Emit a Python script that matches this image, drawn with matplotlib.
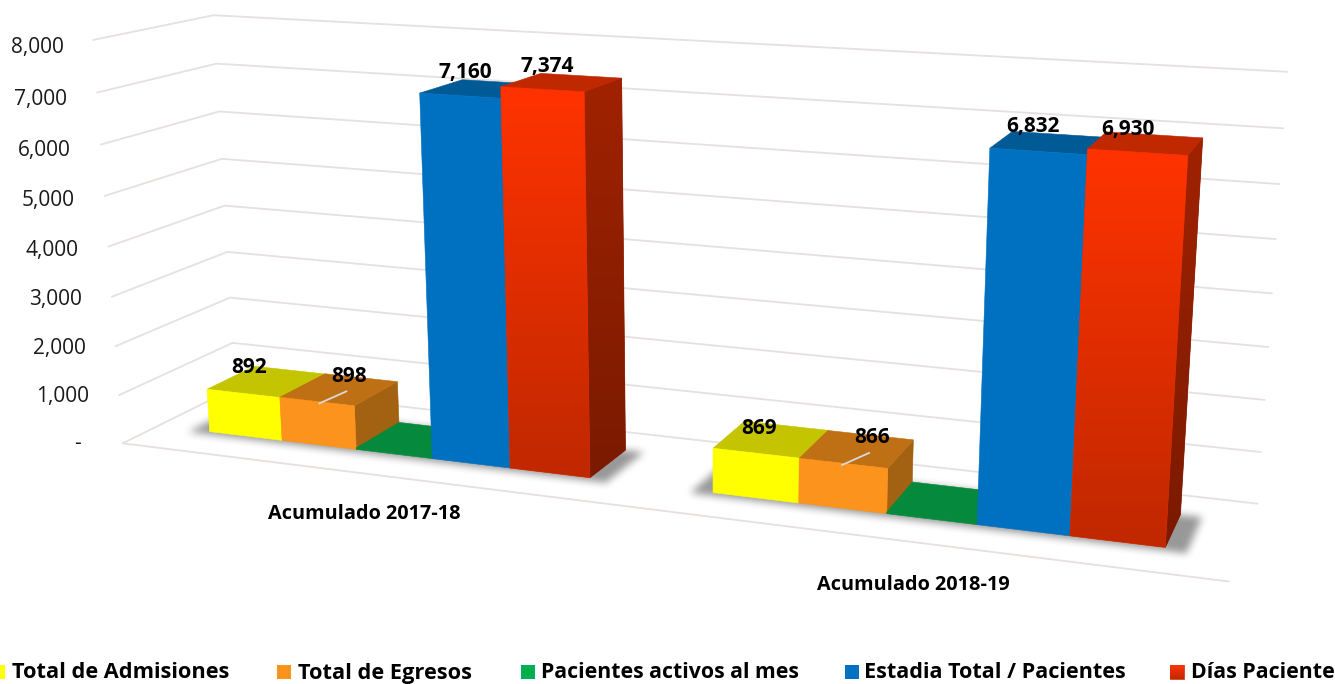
#!/usr/bin/env python3
# -*- coding: utf-8 -*-

import numpy as np
import matplotlib
matplotlib.use("Agg")
import matplotlib.pyplot as plt
from matplotlib.path import Path
from matplotlib.patches import Polygon

plt.rcParams['font.family'] = ['Open Sans', 'DejaVu Sans']

# --------------
# Data
# --------------
categories = ["Acumulado 2017-18", "Acumulado 2018-19"]
series_names = ["Total de Admisiones", "Total de Egresos", "Pacientes activos al mes",
                "Estadia Total / Pacientes", "Días Paciente"]
admisiones = [892, 869]
egresos = [898, 866]
activos = [30, 30]
estadia = [7160, 6832]
dias = [7374, 6930]
y_ticks = [0, 1000, 2000, 3000, 4000, 5000, 6000, 7000, 8000]
y_labels = ["-", "1,000", "2,000", "3,000", "4,000", "5,000", "6,000", "7,000", "8,000"]

# --------------
# Styles
# --------------
front_colors = ["#FFFF00", "#FB931C", "#05893C", "#0070C0", None]
top_colors = ["#C4C400", "#BF6F14", "#05893C", "#005A96", "#C02800"]
side_colors = ["#A8A800", "#A36112", "#05702F", "#004F85", None]
legend_colors = ["#FFFF00", "#FB931C", "#00B050", "#0070C0", None]
red_top, red_bottom = "#FF3300", "#C02800"
side_top, side_bottom = "#A02200", "#7A1A00"
grid_color = "#E6E0DF"

# --------------
# Perspective: box corners (u, thousands, depth) seen at pixel (px, py)
# --------------
box_world = [(0, 8, 0), (0, 0, 0), (0, 8, 1), (0, 0, 1), (1, 8, 1), (1, 0, 1), (1, 0, 0)]
box_pixel = [(94, 41), (122, 441), (213, 14), (236, 390), (1287, 72), (1257, 502), (1229, 583)]

rows, rhs = [], []
for (a, b, c), (px, py) in zip(box_world, box_pixel):
    rows.append([a, b, c, 1, 0, 0, 0, 0, -px * a, -px * b, -px * c])
    rows.append([0, 0, 0, 0, a, b, c, 1, -py * a, -py * b, -py * c])
    rhs += [px, py]
cam = np.linalg.lstsq(np.array(rows, float), np.array(rhs, float), rcond=None)[0]
cam = np.append(cam, 1.0).reshape(3, 4)


def project(u, value, w):
    p = cam @ np.array([u, value / 1000.0, w, 1.0])
    return p[0] / p[2], p[1] / p[2]


def quad(*corners):
    return [project(*c) for c in corners]


# --------------
# Figure
# --------------
fig = plt.figure(figsize=(13.35, 6.84), dpi=100)
ax = fig.add_axes([0, 0, 1, 1])


def gradient_fill(points, c_top, c_bottom, zorder):
    pts = np.array(points)
    x0, x1 = pts[:, 0].min(), pts[:, 0].max()
    y0, y1 = pts[:, 1].min(), pts[:, 1].max()
    c0 = np.array(matplotlib.colors.to_rgb(c_top))
    c1 = np.array(matplotlib.colors.to_rgb(c_bottom))
    # soft edge below the clipped image, so no jagged seam shows
    mid = tuple((c0 + c1) / 2)
    ax.add_patch(Polygon(points, closed=True, fc=mid, ec=mid, lw=0.5, zorder=zorder - 0.05))
    t = np.linspace(0, 1, 128)[:, None]
    img = (c0 * (1 - t) + c1 * t)[:, None, :]
    im = ax.imshow(img, extent=(x0, x1, y1, y0), aspect='auto', zorder=zorder, interpolation='bilinear')
    im.set_clip_path(Polygon(points, closed=True, transform=ax.transData))


# --------------
# Gridlines
# --------------
for v in y_ticks:
    pts = [project(0, v, 0), project(0, v, 1), project(1, v, 1)]
    ax.plot(*zip(*pts), color=grid_color, lw=1.3, zorder=1, solid_joinstyle='miter')
ax.plot(*zip(project(0, 0, 0), project(1, 0, 0)), color=grid_color, lw=1.3, zorder=1)

for v, lab in zip(y_ticks, y_labels):
    px, py = project(0, v, 0)
    dx = -42 if lab == "-" else -30
    ax.text(px + dx, py + v / 1000.0, lab, ha='right', va='center', fontsize=15, color="#1A1A1A")

# --------------
# Bars
# --------------
bar_widths = [0.0769, 0.07756]
w_front, w_back = 0.303, 0.735
centers = [0.2473, 0.7484]
values = [admisiones, egresos, activos, estadia, dias]

# soft shadow under each group
gx, gy = np.meshgrid(np.arange(1335) + 0.5, np.arange(684) + 0.5)
grid_pts = np.column_stack([gx.ravel(), gy.ravel()])
mask = np.zeros(gx.shape)
for c, bar_w in zip(centers, bar_widths):
    ul, ur = c - 2.5 * bar_w - 0.018, c + 2.5 * bar_w + 0.018
    foot = quad((ul, 0, w_front - 0.04), (ur, 0, w_front - 0.04), (ur, 0, w_back), (ul, 0, w_back))
    mask = np.maximum(mask, Path(foot).contains_points(grid_pts).reshape(gx.shape).astype(float))
kernel = np.ones(9) / 9.0
for _ in range(2):
    mask = np.apply_along_axis(lambda r: np.convolve(r, kernel, mode='same'), 0, mask)
    mask = np.apply_along_axis(lambda r: np.convolve(r, kernel, mode='same'), 1, mask)
shadow = np.zeros(gx.shape + (4,))
shadow[..., :3] = 0.35
shadow[..., 3] = mask * 0.62
ax.imshow(shadow, extent=(0, 1335, 684, 0), aspect='auto', zorder=2, interpolation='nearest')

z = 3
for g, c in enumerate(centers):
    bar_w = bar_widths[g]
    for s, vals in enumerate(values):
        v = vals[g]
        ul = c + (s - 2.5) * bar_w
        ur = ul + bar_w
        top = quad((ul, v, w_front), (ur, v, w_front), (ur, v, w_back), (ul, v, w_back))
        front = quad((ul, 0, w_front), (ur, 0, w_front), (ur, v, w_front), (ul, v, w_front))
        side = quad((ur, 0, w_front), (ur, 0, w_back), (ur, v, w_back), (ur, v, w_front))
        if front_colors[s] is None:
            gradient_fill(side, side_top, side_bottom, z)
            ax.add_patch(Polygon(top, closed=True, fc=top_colors[s], ec=top_colors[s], lw=0.4, zorder=z + 0.1))
            gradient_fill(front, red_top, red_bottom, z + 0.2)
        else:
            ax.add_patch(Polygon(side, closed=True, fc=side_colors[s], ec=side_colors[s], lw=0.4, zorder=z))
            ax.add_patch(Polygon(top, closed=True, fc=top_colors[s], ec=top_colors[s], lw=0.4, zorder=z + 0.1))
            ax.add_patch(Polygon(front, closed=True, fc=front_colors[s], ec=front_colors[s], lw=0.4, zorder=z + 0.2))
        z += 1

# --------------
# Data labels, offset from the centre of each bar top
# --------------
label_shift = {(0, 0): (-18, -14), (0, 1): (10, -13), (0, 3): (-16, -16), (0, 4): (-15, -16),
               (1, 0): (-12, -11), (1, 1): (15, -11), (1, 3): (-16, -16), (1, 4): (-18, -14)}
for (g, s), (dx, dy) in label_shift.items():
    v = values[s][g]
    ul = centers[g] + (s - 2.5) * bar_widths[g]
    px, py = project(ul + bar_widths[g] / 2, v, (w_front + w_back) / 2)
    lx, ly = px + dx, py + dy
    ax.text(lx, ly, f"{v:,}", ha='center', va='center', fontsize=15, fontweight='bold',
            color="black", zorder=50)
    if s == 1:
        ax.plot([lx - 30, lx - 3], [ly + 27, ly + 15], color="#D9D9D9", lw=1.3, zorder=49)

# --------------
# Category labels
# --------------
ax.text(364, 514, categories[0], ha='center', va='center', fontsize=14.3, fontweight='bold', color="black", zorder=50)
ax.text(913, 585, categories[1], ha='center', va='center', fontsize=14.3, fontweight='bold', color="black", zorder=50)

# --------------
# Legend
# --------------
legend_box = [-9, 277, 521, 845, 1170]
legend_text = [12, 298, 541, 864, 1191]
legend_size = [15.7, 15.7, 15.3, 15.6, 15.4]
for s, name in enumerate(series_names):
    x0 = legend_box[s]
    if legend_colors[s] is None:
        gradient_fill([(x0, 665), (x0 + 14, 665), (x0 + 14, 679), (x0, 679)], red_top, red_bottom, 40)
    else:
        ax.add_patch(Polygon([(x0, 665), (x0 + 14, 665), (x0 + 14, 679), (x0, 679)], closed=True,
                             fc=legend_colors[s], ec='none', zorder=40))
    ax.text(legend_text[s], 673, name, ha='left', va='center', fontsize=legend_size[s], fontweight='bold', color="black")

ax.set_xlim(0, 1335)
ax.set_ylim(684, 0)
ax.axis('off')

fig.savefig("out.png", dpi=100)
